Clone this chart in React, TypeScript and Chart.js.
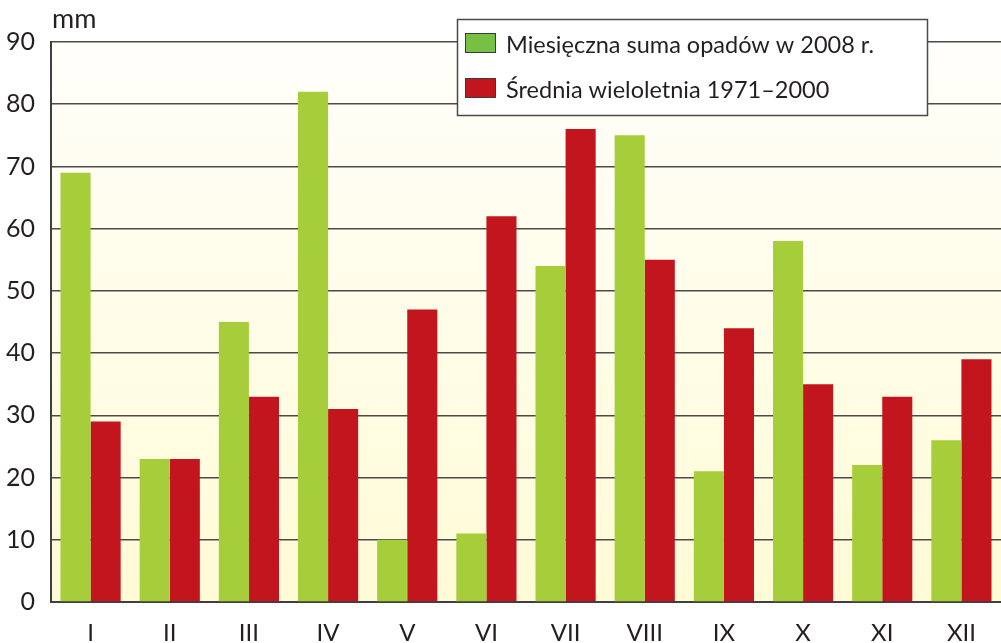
import React, { useEffect, useRef } from "react";
import { Chart, registerables } from "chart.js";

Chart.register(...registerables);

const months = ["I", "II", "III", "IV", "V", "VI", "VII", "VIII", "IX", "X", "XI", "XII"];
const sum2008 = [69, 23, 45, 82, 10, 11, 54, 75, 21, 58, 22, 26];
const mean7100 = [29, 23, 33, 31, 47, 62, 76, 55, 44, 35, 33, 39];
const seriesLabels = ["Miesięczna suma opadów w 2008 r.", "Średnia wieloletnia 1971–2000"];
const barColors = ["#a6cd3a", "#c3151e"];
const legendSwatchColors = ["#76c043", "#c3151e"];
const unitLabel = "mm";

const FONT = "Lato, 'Open Sans', sans-serif";
const TEXT = "#231f20";

const bgPlugin = {
  id: "bgGradient",
  beforeDraw(chart: any) {
    const { ctx, chartArea } = chart;
    if (!chartArea) return;
    const g = ctx.createLinearGradient(0, chartArea.top, 0, chartArea.bottom);
    g.addColorStop(0, "#fffefa");
    g.addColorStop(1, "#fffbd6");
    ctx.save();
    ctx.fillStyle = g;
    ctx.fillRect(chartArea.left, chartArea.top, chartArea.right - chartArea.left, chartArea.bottom - chartArea.top);
    ctx.restore();
  },
};

const overlayPlugin = {
  id: "overlay",
  afterDraw(chart: any) {
    const { ctx, chartArea } = chart;
    ctx.save();
    // unit label
    ctx.font = `27px ${FONT}`;
    ctx.fillStyle = TEXT;
    ctx.textBaseline = "alphabetic";
    ctx.textAlign = "left";
    ctx.fillText(unitLabel, chartArea.left + 1, 28);
    // legend box
    const bx = 457.5, by = 19.5, bw = 470, bh = 96;
    ctx.fillStyle = "#ffffff";
    ctx.fillRect(bx, by, bw, bh);
    ctx.strokeStyle = "#4a4a4a";
    ctx.lineWidth = 1.5;
    ctx.strokeRect(bx, by, bw, bh);
    chart.data.datasets.forEach((ds: any, i: number) => {
      const sy = 33 + i * 45;
      ctx.fillStyle = legendSwatchColors[i];
      ctx.fillRect(465, sy, 30, 19);
      ctx.strokeStyle = "#3a3a3a";
      ctx.lineWidth = 1;
      ctx.strokeRect(465.5, sy + 0.5, 30, 19);
      ctx.fillStyle = TEXT;
      ctx.font = `23.5px ${FONT}`;
      ctx.textBaseline = "alphabetic";
      ctx.fillText(ds.label, 506, sy + 20);
    });
    ctx.restore();
  },
};

export default function App() {
  const ref = useRef<HTMLCanvasElement>(null);
  useEffect(() => {
    document.body.style.margin = "0";
    const chart = new Chart(ref.current!, {
      type: "bar",
      data: {
        labels: months,
        datasets: [
          { label: seriesLabels[0], data: sum2008, backgroundColor: barColors[0], borderWidth: 0 },
          { label: seriesLabels[1], data: mean7100, backgroundColor: barColors[1], borderWidth: 0 },
        ],
      },
      plugins: [bgPlugin, overlayPlugin],
      options: {
        animation: false,
        responsive: false,
        maintainAspectRatio: false,
        layout: { padding: { top: 42, right: 0, bottom: 0, left: 0 } },
        datasets: { bar: { categoryPercentage: 0.76, barPercentage: 1.0 } },
        plugins: { legend: { display: false }, tooltip: { enabled: false } },
        scales: {
          x: {
            grid: { display: false, drawTicks: false },
            border: { display: true, color: "#3f3f3f", width: 2 },
            ticks: { color: TEXT, font: { family: FONT, size: 24 }, padding: 17 },
            afterFit: (s: any) => { s.height = 41; },
          },
          y: {
            min: 0,
            max: 90,
            grid: { color: "#4a4a4a", lineWidth: 1.5, drawTicks: false },
            border: { display: true, color: "#3f3f3f", width: 2 },
            ticks: { stepSize: 10, color: TEXT, font: { family: FONT, size: 25 }, padding: 16 },
            afterFit: (s: any) => { s.width = 51; },
          },
        },
      },
    });
    return () => chart.destroy();
  }, []);
  return (
    <div style={{ width: 1001, height: 643 }}>
      <canvas ref={ref} width={1001} height={643} style={{ display: "block" }} />
    </div>
  );
}
